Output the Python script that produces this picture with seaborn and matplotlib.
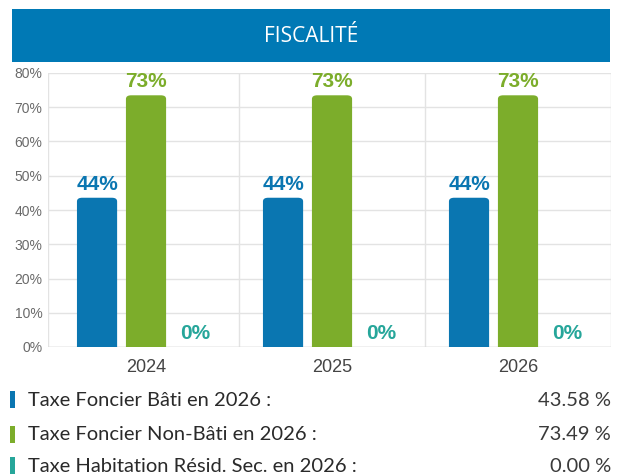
import matplotlib
matplotlib.use("Agg")
import matplotlib.pyplot as plt
from matplotlib.patches import FancyBboxPatch, Rectangle
import seaborn as sns
import pandas as pd

years = ["2024", "2025", "2026"]
series = ["Taxe Foncier Bâti", "Taxe Foncier Non-Bâti", "Taxe Habitation Résid. Sec."]
bati = [43.58, 43.58, 43.58]
non_bati = [73.49, 73.49, 73.49]
habitation = [0.0, 0.0, 0.0]
yticks = [0, 10, 20, 30, 40, 50, 60, 70, 80]
legend_labels = ["Taxe Foncier Bâti en 2026 :", "Taxe Foncier Non-Bâti en 2026 :",
                 "Taxe Habitation Résid. Sec. en 2026 :"]
legend_values = ["43.58 %", "73.49 %", "0.00 %"]
title = "FISCALITÉ"

colors = ["#0a76b1", "#7cad2b", "#26a69a"]

df = pd.DataFrame({
    "year": years * 3,
    "series": [series[0]] * 3 + [series[1]] * 3 + [series[2]] * 3,
    "value": bati + non_bati + habitation,
})

sns.set_theme(style="white")
plt.rcParams["font.family"] = ["Lato", "DejaVu Sans"]

fig = plt.figure(figsize=(6.2, 4.75), dpi=100)
ax = fig.add_axes([48 / 620, 1 - 347 / 475, (611 - 48) / 620, (347 - 73) / 475])

sns.barplot(data=df, x="year", y="value", hue="series", palette=colors,
            width=0.79, gap=0.18, ax=ax, legend=False, saturation=1)

# rounded bar tops
patches = list(ax.patches)
for p in patches:
    x, y = p.get_x(), p.get_y()
    w, h = p.get_width(), p.get_height()
    fc = p.get_facecolor()
    p.remove()
    if h <= 0:
        continue
    r = 0.028
    asp = 38
    ax.add_patch(FancyBboxPatch((x + r, y), w - 2 * r, h - r * asp,
                                boxstyle=f"round,pad={r}", mutation_aspect=asp,
                                facecolor=fc, edgecolor="none", zorder=3))

# value labels
step = 0.79 / 3
for i, (vals, col) in enumerate(zip([bati, non_bati, habitation], colors)):
    for j, v in enumerate(vals):
        xc = j + (i - 1) * step
        ax.text(xc, v + 1.2, f"{round(v):.0f}%", ha="center", va="bottom",
                color=col, fontsize=15, fontweight="bold", family=["Liberation Sans"])

ax.set_xlim(-0.527, 2.5)
ax.set_ylim(0, 80)
ax.set_yticks(yticks)
ax.set_yticklabels([f"{t}%" for t in yticks], color="#6a6a6a", fontsize=10,
                   family=["Liberation Sans"])
ax.tick_params(axis="x", labelsize=13, colors="#444444", pad=9, length=0)
ax.tick_params(axis="y", length=0, pad=4)
for lbl in ax.get_xticklabels():
    lbl.set_family(["Liberation Sans"])
ax.set_xlabel("")
ax.set_ylabel("")
for s in ax.spines.values():
    s.set_visible(False)
ax.grid(axis="y", color="#e3e3e3", linewidth=1, zorder=0)
for xb in [-0.527, 0.5, 1.5, 2.5]:
    ax.axvline(xb, color="#e3e3e3", linewidth=1, zorder=0)
ax.axhline(0, color="#d0d0d0", linewidth=1, zorder=1)
ax.set_axisbelow(True)

# title band
fig.patches.append(Rectangle((12 / 620, 1 - 62 / 475), (610 - 12) / 620, 53 / 475,
                             transform=fig.transFigure, facecolor="#0079b5",
                             edgecolor="none", zorder=0))
fig.text(311 / 620, 1 - 36 / 475, title, ha="center", va="center", color="white",
         fontsize=15, family=["Open Sans", "DejaVu Sans"])

# bottom legend rows
rows_y = [400, 435, 466]
for yy, lab, val, col in zip(rows_y, legend_labels, legend_values, colors):
    fig.patches.append(Rectangle((10 / 620, 1 - (yy + 8) / 475), 5 / 620, 17 / 475,
                                 transform=fig.transFigure, facecolor=col,
                                 edgecolor="none"))
    fig.text(28 / 620, 1 - yy / 475, lab, ha="left", va="center", color="#2a2a2a",
             fontsize=14.5)
    fig.text(611 / 620, 1 - yy / 475, val, ha="right", va="center", color="#3a3a3a",
             fontsize=14.5)

fig.savefig("out.png", dpi=100, facecolor="white")
